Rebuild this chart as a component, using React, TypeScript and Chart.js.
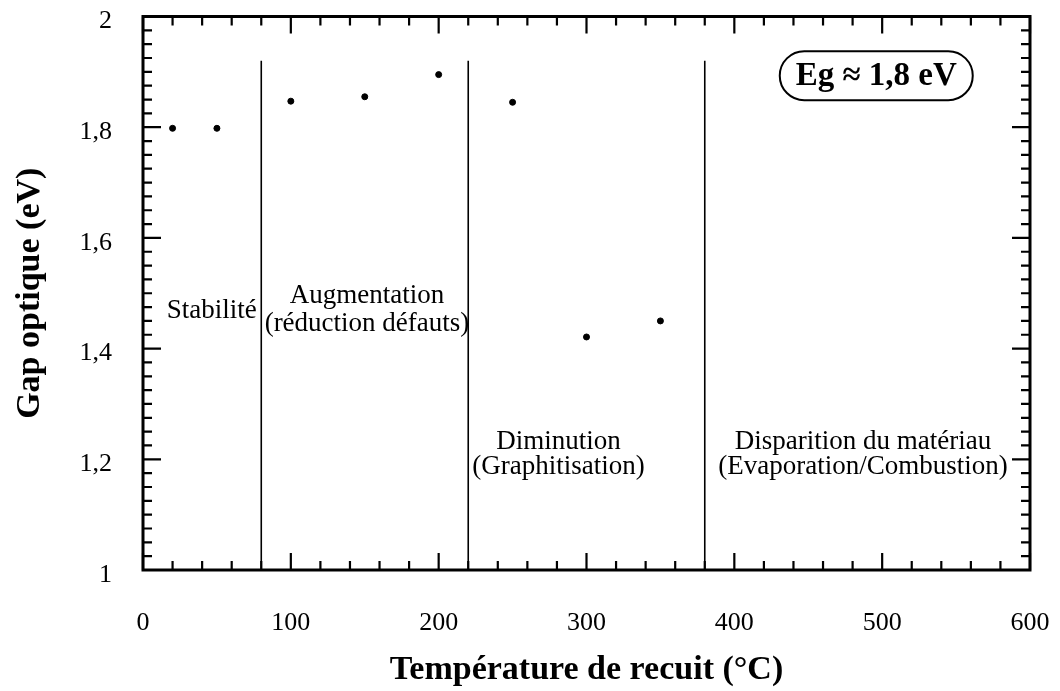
import React, { useEffect, useRef } from "react";
import { Chart, registerables } from "chart.js";

Chart.register(...registerables);

const temperatures = [20, 50, 100, 150, 200, 250, 300, 350];
const gapValues = [1.798, 1.798, 1.847, 1.855, 1.895, 1.845, 1.421, 1.45];
const boundaryTemps = [80, 220, 380];
const boundaryTop = 1.92;
const xTickValues = [0, 100, 200, 300, 400, 500, 600];
const yTickValues = [1, 1.2, 1.4, 1.6, 1.8, 2];

const SERIF = "'Liberation Serif', 'Times New Roman', serif";

const zeroPad = (s: any) => {
  s.paddingLeft = 0;
  s.paddingRight = 0;
  s.paddingTop = 0;
  s.paddingBottom = 0;
};

const overlayPlugin = {
  id: "overlay",
  afterDatasetsDraw(chart: any) {
    const { ctx, chartArea } = chart;
    const xs = chart.scales.x;
    const ys = chart.scales.y;
    const { left, right, top, bottom } = chartArea;
    ctx.save();
    ctx.strokeStyle = "#000";
    ctx.fillStyle = "#000";

    // boundaries
    ctx.lineWidth = 1.6;
    for (const t of boundaryTemps) {
      const px = xs.getPixelForValue(t);
      ctx.beginPath();
      ctx.moveTo(px, ys.getPixelForValue(1));
      ctx.lineTo(px, ys.getPixelForValue(boundaryTop));
      ctx.stroke();
    }

    // ticks (inward)
    ctx.lineWidth = 2.2;
    for (let v = 0; v <= 600; v += 20) {
      const px = xs.getPixelForValue(v);
      const len = v % 100 === 0 ? 17 : 9;
      ctx.beginPath();
      ctx.moveTo(px, bottom);
      ctx.lineTo(px, bottom - len);
      ctx.moveTo(px, top);
      ctx.lineTo(px, top + len);
      ctx.stroke();
    }
    for (let i = 0; i <= 40; i++) {
      const v = 1 + i * 0.025;
      const py = ys.getPixelForValue(v);
      const len = i % 8 === 0 ? 18 : 9;
      ctx.beginPath();
      ctx.moveTo(left, py);
      ctx.lineTo(left + len, py);
      ctx.moveTo(right, py);
      ctx.lineTo(right - len, py);
      ctx.stroke();
    }

    // frame
    ctx.lineWidth = 3;
    ctx.strokeRect(left, top, right - left, bottom - top);

    // region labels
    ctx.font = `27px ${SERIF}`;
    ctx.textAlign = "center";
    ctx.textBaseline = "middle";
    const label = (t: string, x: number, y: number) =>
      ctx.fillText(t, xs.getPixelForValue(x), ys.getPixelForValue(y));
    label("Stabilité", 46.5, 1.468);
    label("Augmentation", 151.5, 1.496);
    label("(réduction défauts)", 151.5, 1.445);
    label("Diminution", 281, 1.231);
    label("(Graphitisation)", 281, 1.186);
    label("Disparition du matériau", 487, 1.231);
    label("(Evaporation/Combustion)", 487, 1.186);

    // Eg box
    const cx = xs.getPixelForValue(496);
    const cy = ys.getPixelForValue(1.893);
    const w = 193;
    const h = 49;
    const r = h / 2;
    ctx.lineWidth = 2;
    ctx.beginPath();
    ctx.moveTo(cx - w / 2 + r, cy - h / 2);
    ctx.lineTo(cx + w / 2 - r, cy - h / 2);
    ctx.arc(cx + w / 2 - r, cy, r, -Math.PI / 2, Math.PI / 2);
    ctx.lineTo(cx - w / 2 + r, cy + h / 2);
    ctx.arc(cx - w / 2 + r, cy, r, Math.PI / 2, (3 * Math.PI) / 2);
    ctx.closePath();
    ctx.stroke();
    ctx.font = `bold 33px ${SERIF}`;
    ctx.fillText("Eg ≈ 1,8 eV", cx, cy + 1);

    ctx.restore();
  },
};

export default function App() {
  const ref = useRef<HTMLCanvasElement | null>(null);
  useEffect(() => {
    if (!ref.current) return;
    const chart = new Chart(ref.current, {
      type: "scatter",
      data: {
        datasets: [
          {
            data: temperatures.map((t, i) => ({ x: t, y: gapValues[i] })),
            backgroundColor: "#000",
            borderColor: "#000",
            pointRadius: 3,
            pointHoverRadius: 3,
          },
        ],
      },
      options: {
        responsive: false,
        animation: false,
        events: [],
        layout: { padding: { top: 16.5, right: 30, left: 0, bottom: 0 } },
        plugins: { legend: { display: false }, tooltip: { enabled: false } },
        scales: {
          x: {
            type: "linear",
            min: 0,
            max: 600,
            afterBuildTicks: (s: any) => {
              s.ticks = xTickValues.map((v) => ({ value: v }));
            },
            afterFit: (s: any) => {
              s.height = 121;
              zeroPad(s);
            },
            grid: { display: false },
            border: { display: false },
            ticks: {
              color: "#000",
              font: { family: SERIF, size: 26 },
              padding: 30,
              maxRotation: 0,
            },
            title: {
              display: true,
              text: "Température de recuit (°C)",
              color: "#000",
              font: { family: SERIF, size: 34, weight: "bold" },
              padding: { top: 0, bottom: 0 },
            },
          },
          y: {
            type: "linear",
            min: 1,
            max: 2,
            afterBuildTicks: (s: any) => {
              s.ticks = yTickValues.map((v) => ({ value: v }));
            },
            afterFit: (s: any) => {
              s.width = 143;
              zeroPad(s);
            },
            grid: { display: false },
            border: { display: false },
            ticks: {
              color: "#000",
              font: { family: SERIF, size: 26 },
              padding: 23,
              labelOffset: 5,
              callback: (v: any) => String(Number(Number(v).toFixed(1))).replace(".", ","),
            },
            title: {
              display: true,
              text: "Gap optique (eV)",
              color: "#000",
              font: { family: SERIF, size: 34, weight: "bold" },
              padding: { top: 10, bottom: 0 },
            },
          },
        },
      },
      plugins: [overlayPlugin],
    } as any);
    return () => chart.destroy();
  }, []);
  return (
    <div style={{ position: "fixed", left: 0, top: 0, width: 1060, height: 691, background: "#fff" }}>
      <canvas ref={ref} width={1060} height={691} style={{ display: "block" }} />
    </div>
  );
}
